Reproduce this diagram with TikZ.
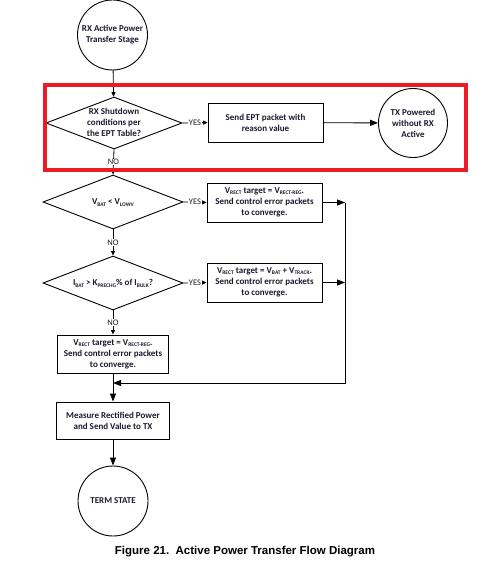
\documentclass[tikz,border=0pt]{standalone}
\usepackage{fontspec}
\setmainfont{Carlito}
\newfontfamily\capfont{Liberation Sans}
\usetikzlibrary{shapes.geometric,arrows.meta}
\definecolor{txt}{RGB}{25,25,45}
\definecolor{hlred}{RGB}{237,28,36}
\newcommand\lsub[1]{\raisebox{-0.3ex}{\fontsize{5.5}{5.5}\selectfont #1}}
\newcommand\dtext[1]{\smash{\makebox[0pt]{\raisebox{-3pt}{\begin{tabular}{@{}c@{}}#1\end{tabular}}}}}
\begin{document}
\begin{tikzpicture}[x=1pt,y=-1pt,
  font=\fontsize{9}{11}\selectfont\bfseries, text=txt,
  box/.style={draw, line width=0.9pt, rectangle, align=center, inner sep=0pt},
  circ/.style={draw, line width=0.9pt, circle, align=center, inner sep=0pt},
  dia/.style={draw, line width=0.9pt, diamond, inner sep=0pt},
  sm/.style={line width=0.8pt, -{Triangle[length=4.5pt,width=4pt]}},
  bg/.style={line width=0.9pt, -{Triangle[length=8pt,width=6pt]}},
  lbl/.style={fill=white, inner sep=0.6pt, font=\fontsize{8.5}{9}\selectfont\mdseries, text=txt}]
\useasboundingbox (0,0) rectangle (484,586);

\node[circ, minimum size=70pt] (c1) at (112.5,35) {RX Active Power\\Transfer Stage};
\node[dia, minimum width=136pt, minimum height=52pt] (d1) at (114,123) {\dtext{RX Shutdown\\conditions per\\the EPT Table?}};
\node[box, minimum width=115pt, minimum height=39pt] (b1) at (265.5,122.5) {Send EPT packet with\\reason value};
\node[circ, minimum size=69pt] (c2) at (413,123) {TX Powered\\without RX\\Active};

\node[dia, minimum width=140pt, minimum height=54pt] (d2) at (113,202) {\dtext{V\lsub{BAT} < V\lsub{LOWV}}};
\node[box, minimum width=115pt, minimum height=39pt] (b2) at (264.5,202.5) {V\lsub{RECT} target = V\lsub{RECT-REG}.\\Send control error packets\\to converge.};

\node[dia, minimum width=140pt, minimum height=54pt] (d3) at (113,283) {\dtext{I\lsub{BAT} > K\lsub{PRECHG}\% of I\lsub{BULK}?}};
\node[box, minimum width=115pt, minimum height=39pt] (b3) at (264.5,282.5) {V\lsub{RECT} target = V\lsub{BAT} + V\lsub{TRACK}.\\Send control error packets\\to converge.};

\node[box, minimum width=111pt, minimum height=38pt] (b4) at (113,354) {V\lsub{RECT} target = V\lsub{RECT-REG}.\\Send control error packets\\to converge.};
\node[box, minimum width=113pt, minimum height=37pt] (b5) at (113,420.5) {Measure Rectified Power\\and Send Value to TX};
\node[circ, minimum size=70pt] (c3) at (113,501) {TERM STATE};

\coordinate (j1) at (345,202.5);
\coordinate (j3) at (345,282.5);
\coordinate (j2) at (345,383);
\coordinate (jm) at (113,383);

\draw[sm] (c1) -- (d1);
\draw[sm] (d1.east) -- node[lbl]{YES} (b1.west);
\draw[bg] (b1) -- (c2);
\draw[sm] (d1.south) -- node[lbl]{NO} (d2.north);
\draw[sm] (d2.east) -- node[lbl]{YES} (b2.west);
\draw[bg] (b2.east) -- (j1);
\draw[sm] (d2.south) -- node[lbl]{NO} (d3.north);
\draw[sm] (d3.east) -- node[lbl]{YES} (b3.west);
\draw[bg] (b3.east) -- (j3);
\draw[sm] (d3.south) -- node[lbl]{NO} (b4.north);
\draw[bg] (b4) -- (b5);
\draw[bg] (j1) -- (j2) -- (jm);
\draw[bg] (b5) -- (c3);

\node[draw=hlred, line width=4pt, minimum width=421pt, minimum height=85pt, inner sep=0pt] (hl) at (255.5,127.5) {};

\node[font=\capfont\fontsize{11.5}{13}\selectfont\bfseries, text=black] (cap) at (245,552) {Figure 21.\ \ Active Power Transfer Flow Diagram};
\end{tikzpicture}
\end{document}
